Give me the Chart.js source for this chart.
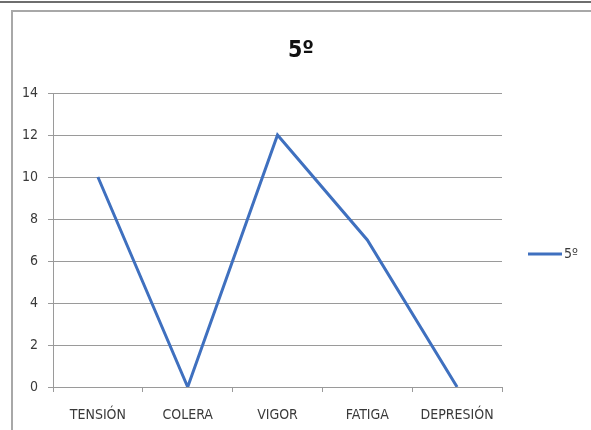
<!DOCTYPE html>
<html>
<head>
<meta charset="utf-8">
<script src="https://cdn.jsdelivr.net/npm/chart.js@4"></script>
<style>
  html, body { margin: 0; padding: 0; background: #fff; }
  #wrap { width: 591px; height: 430px; }
</style>
</head>
<body>
<div id="wrap"><canvas id="grafico" width="591" height="430"></canvas></div>
<script>
// Datos del gráfico
const categorias = ['TENSIÓN', 'COLERA', 'VIGOR', 'FATIGA', 'DEPRESIÓN'];
const valores5 = [10, 0, 12, 7, 0];
const nombreSerie = '5º';
const tituloGrafico = '5º';

const fuente = "'Liberation Sans Narrow', 'DejaVu Sans Condensed', sans-serif";
const azul = '#3f70bf';
const gris = '#9a9a9a';
const textoColor = '#3a3a3a';

// Marco, título y leyenda, al estilo Excel
const marcoPlugin = {
    id: 'marco',
    beforeDraw(chart) {
        const ctx = chart.ctx;
        ctx.save();
        ctx.fillStyle = '#fff';
        ctx.fillRect(0, 0, chart.width, chart.height);
        // línea oscura superior
        ctx.fillStyle = '#6e6e6e';
        ctx.fillRect(0, 1, chart.width, 2);
        // borde del área del gráfico
        ctx.strokeStyle = '#a8a8a8';
        ctx.lineWidth = 2;
        ctx.strokeRect(12, 11, chart.width + 10, chart.height + 10);
        ctx.restore();
    },
    afterDraw(chart) {
        const ctx = chart.ctx;
        ctx.save();
        // título
        ctx.fillStyle = '#111';
        ctx.font = "bold 23px " + fuente;
        ctx.textAlign = 'center';
        ctx.textBaseline = 'middle';
        ctx.fillText(tituloGrafico, 301, 51);
        // leyenda a la derecha
        const ds = chart.data.datasets[0];
        ctx.strokeStyle = ds.borderColor;
        ctx.lineWidth = 3;
        ctx.beginPath();
        ctx.moveTo(528, 254);
        ctx.lineTo(562, 254);
        ctx.stroke();
        ctx.fillStyle = textoColor;
        ctx.font = "14px " + fuente;
        ctx.textAlign = 'left';
        ctx.fillText(ds.label, 564, 254);
        ctx.restore();
    }
};

const ctx = document.getElementById('grafico').getContext('2d');
new Chart(ctx, {
    type: 'line',
    data: {
        labels: categorias,
        datasets: [{
            label: nombreSerie,
            data: valores5,
            borderColor: azul,
            backgroundColor: azul,
            borderWidth: 3,
            pointRadius: 0,
            tension: 0
        }]
    },
    options: {
        responsive: false,
        animation: false,
        layout: {
            padding: { left: 0, right: 89, top: 93, bottom: 0 }
        },
        plugins: {
            legend: { display: false },
            title: { display: false },
            tooltip: { enabled: false }
        },
        scales: {
            x: {
                offset: true,
                afterFit: s => { s.height = 43; },
                grid: {
                    display: true,
                    drawOnChartArea: false,
                    offset: true,
                    color: gris,
                    tickLength: 5
                },
                border: { color: gris, width: 1 },
                ticks: {
                    color: textoColor,
                    font: { family: fuente, size: 14 },
                    padding: 15,
                    maxRotation: 0
                }
            },
            y: {
                min: 0,
                max: 14,
                afterFit: s => { s.width = 53; },
                grid: {
                    color: gris,
                    tickLength: 5
                },
                border: { color: gris, width: 1 },
                ticks: {
                    stepSize: 2,
                    color: textoColor,
                    font: { family: fuente, size: 14 },
                    padding: 10
                }
            }
        }
    },
    plugins: [marcoPlugin]
});
</script>
</body>
</html>
